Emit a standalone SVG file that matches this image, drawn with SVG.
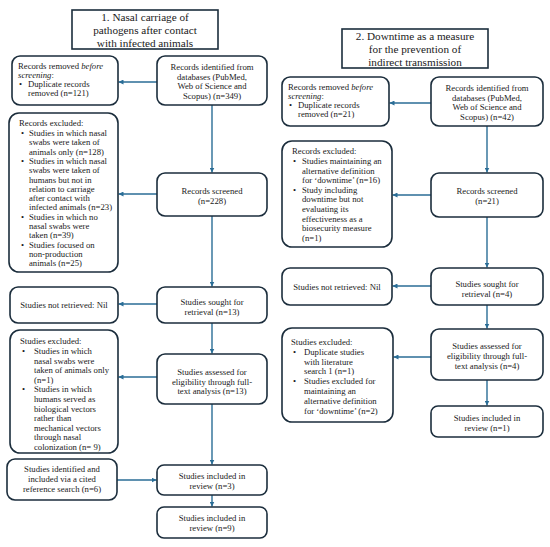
<svg xmlns="http://www.w3.org/2000/svg" width="550" height="547" viewBox="0 0 550 547">
<defs>
<marker id="ah" viewBox="0 0 10 10" refX="10" refY="5" markerWidth="5" markerHeight="5" orient="auto" markerUnits="userSpaceOnUse">
<path d="M0,0 L10,5 L0,10 z" fill="#2a6d96"/>
</marker>
<style>
.box{fill:#fff;stroke:#1b2d3c;stroke-width:1.6}
.ttl{fill:#fff;stroke:#1b2d3c;stroke-width:1.6}
text{font-family:"Liberation Serif","DejaVu Serif","Times New Roman",serif;fill:#1a1a1a}
.t{font-size:11.2px;text-anchor:middle}
.s{font-size:8.7px}
.c{text-anchor:middle}
.con line{stroke:#2a6d96;stroke-width:1.4;fill:none}
</style>
</defs>
<rect width="550" height="547" fill="#fff"/>

<g id="connectors" class="con">
<line x1="157" y1="82" x2="118.5" y2="82" marker-end="url(#ah)"/>
<line x1="212" y1="105" x2="212" y2="172.5" marker-end="url(#ah)"/>
<line x1="157" y1="194" x2="118.5" y2="194" marker-end="url(#ah)"/>
<line x1="212" y1="216" x2="212" y2="286.5" marker-end="url(#ah)"/>
<line x1="157" y1="304" x2="118.5" y2="304" marker-end="url(#ah)"/>
<line x1="212" y1="323" x2="212" y2="353.5" marker-end="url(#ah)"/>
<line x1="157" y1="377" x2="118.5" y2="377" marker-end="url(#ah)"/>
<line x1="212" y1="404" x2="212" y2="464.5" marker-end="url(#ah)"/>
<line x1="117" y1="480" x2="156.5" y2="480" marker-end="url(#ah)"/>
<line x1="212" y1="495" x2="212" y2="506.5" marker-end="url(#ah)"/>

<line x1="431" y1="103" x2="389.5" y2="103" marker-end="url(#ah)"/>
<line x1="487" y1="126" x2="487" y2="172.5" marker-end="url(#ah)"/>
<line x1="431" y1="195" x2="392.5" y2="195" marker-end="url(#ah)"/>
<line x1="487" y1="217" x2="487" y2="267.5" marker-end="url(#ah)"/>
<line x1="431" y1="286" x2="392.5" y2="286" marker-end="url(#ah)"/>
<line x1="487" y1="305" x2="487" y2="328.5" marker-end="url(#ah)"/>
<line x1="431" y1="357" x2="393.5" y2="357" marker-end="url(#ah)"/>
<line x1="487" y1="380" x2="487" y2="405.5" marker-end="url(#ah)"/>
</g>

<!-- Left column -->
<g id="title1">
<rect class="ttl" x="72" y="10" width="146" height="39"/>
<text class="t"><tspan x="145" y="20.5">1. Nasal carriage of</tspan><tspan x="145" y="33.5">pathogens after contact</tspan><tspan x="145" y="46.5">with infected animals</tspan></text>
</g>

<g id="L_removed">
<rect class="box" x="12" y="56" width="106" height="49" rx="8"/>
<text class="s" x="18" y="69">Records removed <tspan font-style="italic">before</tspan></text>
<text class="s" x="18" y="78"><tspan font-style="italic">screening</tspan>:</text>
<text class="s" x="19" y="87">•</text><text class="s" x="28" y="87">Duplicate records</text>
<text class="s" x="28" y="96">removed (n=121)</text>
</g>

<g id="L_identified">
<rect class="box" x="157" y="56" width="110" height="49" rx="8"/>
<text class="s c" x="212" y="70">Records identified from</text>
<text class="s c" x="212" y="79.5">databases (PubMed,</text>
<text class="s c" x="212" y="89">Web of Science and</text>
<text class="s c" x="212" y="98.5">Scopus) (n=349)</text>
</g>

<g id="L_excluded">
<rect class="box" x="9" y="113" width="109" height="159" rx="10"/>
<text class="s" x="19" y="125.5">Records excluded:</text>
<text class="s" x="21" y="136">•</text><text class="s" x="29" y="136">Studies in which nasal</text>
<text class="s" x="29" y="145.3">swabs were taken of</text>
<text class="s" x="29" y="154.6">animals only (n=128)</text>
<text class="s" x="21" y="163.9">•</text><text class="s" x="29" y="163.9">Studies in which nasal</text>
<text class="s" x="29" y="173.2">swabs were taken of</text>
<text class="s" x="29" y="182.5">humans but not in</text>
<text class="s" x="29" y="191.8">relation to carriage</text>
<text class="s" x="29" y="201.1">after contact with</text>
<text class="s" x="29" y="210.4">infected animals (n=23)</text>
<text class="s" x="21" y="219.7">•</text><text class="s" x="29" y="219.7">Studies in which no</text>
<text class="s" x="29" y="229">nasal swabs were</text>
<text class="s" x="29" y="238.3">taken (n=39)</text>
<text class="s" x="21" y="247.6">•</text><text class="s" x="29" y="247.6">Studies focused on</text>
<text class="s" x="29" y="256.9">non-production</text>
<text class="s" x="29" y="266.2">animals (n=25)</text>
</g>

<g id="L_screened">
<rect class="box" x="157" y="173" width="110" height="43" rx="8"/>
<text class="s c" x="212" y="194">Records screened</text>
<text class="s c" x="212" y="204">(n=228)</text>
</g>

<g id="L_sought">
<rect class="box" x="157" y="287" width="110" height="36" rx="8"/>
<text class="s c" x="212" y="305">Studies sought for</text>
<text class="s c" x="212" y="315">retrieval (n=13)</text>
</g>

<g id="L_notretrieved">
<rect class="box" x="10" y="287" width="108" height="36" rx="8"/>
<text class="s c" x="64" y="307.5">Studies not retrieved: Nil</text>
</g>

<g id="L_assessed">
<rect class="box" x="157" y="354" width="110" height="50" rx="8"/>
<text class="s c" x="212" y="375">Studies assessed for</text>
<text class="s c" x="212" y="384.5">eligibility through full-</text>
<text class="s c" x="212" y="394">text analysis (n=13)</text>
</g>

<g id="L_studies_excluded">
<rect class="box" x="10" y="330" width="108" height="123" rx="10"/>
<text class="s" x="20" y="344">Studies excluded:</text>
<text class="s" x="22" y="354">•</text><text class="s" x="34" y="354">Studies in which</text>
<text class="s" x="34" y="363.6">nasal swabs were</text>
<text class="s" x="34" y="373.2">taken of animals only</text>
<text class="s" x="34" y="382.8">(n=1)</text>
<text class="s" x="22" y="392.4">•</text><text class="s" x="34" y="392.4">Studies in which</text>
<text class="s" x="34" y="402">humans served as</text>
<text class="s" x="34" y="411.6">biological vectors</text>
<text class="s" x="34" y="421.2">rather than</text>
<text class="s" x="34" y="430.8">mechanical vectors</text>
<text class="s" x="34" y="440.4">through nasal</text>
<text class="s" x="34" y="450">colonization (n= 9)</text>
</g>

<g id="L_cited">
<rect class="box" x="7" y="459" width="110" height="41" rx="8"/>
<text class="s c" x="62" y="472">Studies identified and</text>
<text class="s c" x="62" y="482">included via a cited</text>
<text class="s c" x="62" y="492">reference search (n=6)</text>
</g>

<g id="L_included3">
<rect class="box" x="157" y="465" width="110" height="30" rx="7"/>
<text class="s c" x="212" y="479">Studies included in</text>
<text class="s c" x="212" y="488.5">review (n=3)</text>
</g>

<g id="L_included9">
<rect class="box" x="157" y="507" width="110" height="31" rx="7"/>
<text class="s c" x="212" y="521">Studies included in</text>
<text class="s c" x="212" y="531">review (n=9)</text>
</g>

<!-- Right column -->
<g id="title2">
<rect class="ttl" x="342" y="29" width="146" height="39"/>
<text class="t"><tspan x="415" y="39.5">2. Downtime as a measure</tspan><tspan x="415" y="52.5">for the prevention of</tspan><tspan x="415" y="65.5">indirect transmission</tspan></text>
</g>

<g id="R_removed">
<rect class="box" x="282" y="77" width="107" height="49" rx="8"/>
<text class="s" x="288" y="90">Records removed <tspan font-style="italic">before</tspan></text>
<text class="s" x="288" y="99"><tspan font-style="italic">screening</tspan>:</text>
<text class="s" x="289" y="108">•</text><text class="s" x="298" y="108">Duplicate records</text>
<text class="s" x="298" y="117">removed (n=21)</text>
</g>

<g id="R_identified">
<rect class="box" x="431" y="77" width="112" height="49" rx="8"/>
<text class="s c" x="487" y="91">Records identified from</text>
<text class="s c" x="487" y="100.5">databases (PubMed,</text>
<text class="s c" x="487" y="110">Web of Science and</text>
<text class="s c" x="487" y="119.5">Scopus) (n=42)</text>
</g>

<g id="R_excluded">
<rect class="box" x="282" y="141" width="110" height="106" rx="10"/>
<text class="s" x="292" y="154">Records excluded:</text>
<text class="s" x="293" y="164">•</text><text class="s" x="302" y="164">Studies maintaining an</text>
<text class="s" x="302" y="173.6">alternative definition</text>
<text class="s" x="302" y="183.2">for ‘downtime’ (n=16)</text>
<text class="s" x="293" y="192.8">•</text><text class="s" x="302" y="192.8">Study including</text>
<text class="s" x="302" y="202.4">downtime but not</text>
<text class="s" x="302" y="212">evaluating its</text>
<text class="s" x="302" y="221.6">effectiveness as a</text>
<text class="s" x="302" y="231.2">biosecurity measure</text>
<text class="s" x="302" y="240.8">(n=1)</text>
</g>

<g id="R_screened">
<rect class="box" x="431" y="173" width="112" height="44" rx="8"/>
<text class="s c" x="487" y="194">Records screened</text>
<text class="s c" x="487" y="204">(n=21)</text>
</g>

<g id="R_sought">
<rect class="box" x="431" y="268" width="112" height="37" rx="8"/>
<text class="s c" x="487" y="287">Studies sought for</text>
<text class="s c" x="487" y="296.5">retrieval (n=4)</text>
</g>

<g id="R_notretrieved">
<rect class="box" x="282" y="268" width="110" height="37" rx="8"/>
<text class="s c" x="337" y="289.5">Studies not retrieved: Nil</text>
</g>

<g id="R_assessed">
<rect class="box" x="431" y="329" width="112" height="51" rx="8"/>
<text class="s c" x="487" y="349">Studies assessed for</text>
<text class="s c" x="487" y="359">eligibility through full-</text>
<text class="s c" x="487" y="369">text analysis (n=4)</text>
</g>

<g id="R_studies_excluded">
<rect class="box" x="282" y="328" width="111" height="94" rx="10"/>
<text class="s" x="291" y="345">Studies excluded:</text>
<text class="s" x="293" y="354.8">•</text><text class="s" x="304" y="354.8">Duplicate studies</text>
<text class="s" x="304" y="364.6">with literature</text>
<text class="s" x="304" y="374.4">search 1 (n=1)</text>
<text class="s" x="293" y="384.2">•</text><text class="s" x="304" y="384.2">Studies excluded for</text>
<text class="s" x="304" y="394">maintaining an</text>
<text class="s" x="304" y="403.8">alternative definition</text>
<text class="s" x="304" y="413.6">for ‘downtime’ (n=2)</text>
</g>

<g id="R_included">
<rect class="box" x="431" y="406" width="112" height="31" rx="7"/>
<text class="s c" x="487" y="420.5">Studies included in</text>
<text class="s c" x="487" y="430.5">review (n=1)</text>
</g>
</svg>
